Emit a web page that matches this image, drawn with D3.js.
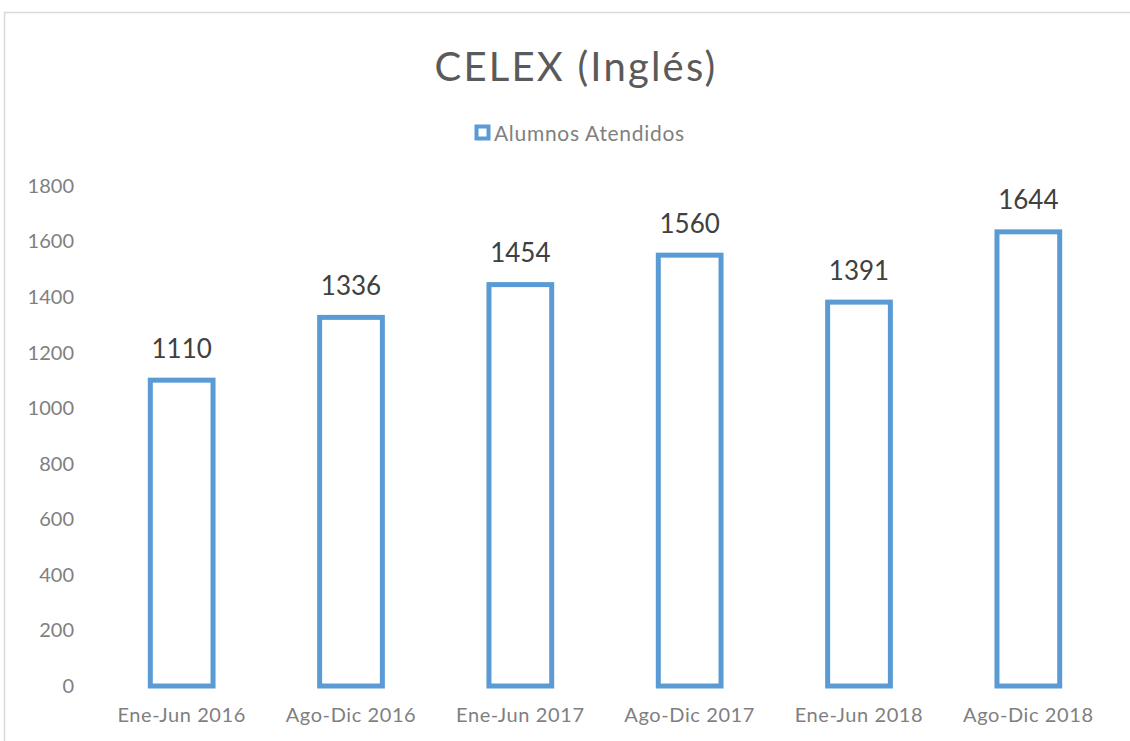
<!DOCTYPE html>
<html>
<head>
<meta charset="utf-8">
<script src="https://cdn.jsdelivr.net/npm/d3@7"></script>
<style>
  body { margin: 0; background: #fff; }
  svg { display: block; font-family: Lato, "Open Sans", sans-serif; }
</style>
</head>
<body>
<svg id="chart" width="1130" height="741"></svg>
<script>
var periodos = ["Ene-Jun 2016", "Ago-Dic 2016", "Ene-Jun 2017", "Ago-Dic 2017", "Ene-Jun 2018", "Ago-Dic 2018"];
var alumnos = [1110, 1336, 1454, 1560, 1391, 1644];
var yTicks = [0, 200, 400, 600, 800, 1000, 1200, 1400, 1600, 1800];
var titulo = "CELEX (Inglés)";
var serie = "Alumnos Atendidos";

var svg = d3.select("#chart");
var blue = "#5b9bd5";

// chart border (only the top/left shows in the crop)
svg.append("rect")
  .attr("x", 4.5).attr("y", 12.5)
  .attr("width", 1140).attr("height", 760)
  .attr("fill", "none").attr("stroke", "#d9d9d9").attr("stroke-width", 1.5);

var m = {left: 97, right: 1113, top: 186, bottom: 686};

var x = d3.scaleBand()
  .domain(periodos)
  .range([m.left, m.right])
  .paddingInner(0.6).paddingOuter(0.3);

var y = d3.scaleLinear()
  .domain([0, 1800])
  .range([m.bottom, m.top]);

// title
svg.append("text")
  .attr("x", 576).attr("y", 81)
  .attr("text-anchor", "middle")
  .attr("font-size", 40)
  .attr("letter-spacing", 2.2)
  .attr("fill", "#5a5a5a")
  .text(titulo);

// legend
var lg = svg.append("g");
lg.append("rect")
  .attr("x", 476.5).attr("y", 126.5)
  .attr("width", 12).attr("height", 12)
  .attr("fill", "#fff").attr("stroke", blue).attr("stroke-width", 4);
lg.append("text")
  .attr("x", 494).attr("y", 140.5)
  .attr("font-size", 21)
  .attr("letter-spacing", 0.7)
  .attr("fill", "#7f7f7f")
  .text(serie);

// y axis
var yAxis = svg.append("g")
  .attr("transform", "translate(" + 74 + ",0)")
  .call(d3.axisLeft(y).tickValues(yTicks).tickSize(0).tickPadding(0).tickFormat(d3.format("d")));
yAxis.select(".domain").remove();
yAxis.selectAll("text")
  .attr("font-size", 20)
  .attr("font-family", "Lato, sans-serif")
  .attr("fill", "#7f7f7f");

// x axis
var xAxis = svg.append("g")
  .attr("transform", "translate(0," + m.bottom + ")")
  .call(d3.axisBottom(x).tickSize(0).tickPadding(22));
xAxis.select(".domain").remove();
xAxis.selectAll("text")
  .attr("font-size", 20)
  .attr("letter-spacing", 0.6)
  .attr("font-family", "Lato, sans-serif")
  .attr("fill", "#7f7f7f");

// bars
var sw = 5;
svg.selectAll("rect.bar")
  .data(alumnos)
  .enter()
  .append("rect")
  .attr("class", "bar")
  .attr("x", function (d, i) { return x(periodos[i]) + sw / 2; })
  .attr("y", function (d) { return y(d) + sw / 2; })
  .attr("width", x.bandwidth() - sw)
  .attr("height", function (d) { return y(0) - y(d) - sw / 2; })
  .attr("fill", "#fff")
  .attr("stroke", blue)
  .attr("stroke-width", sw);

// value labels
svg.selectAll("text.val")
  .data(alumnos)
  .enter()
  .append("text")
  .attr("class", "val")
  .attr("x", function (d, i) { return x(periodos[i]) + x.bandwidth() / 2; })
  .attr("y", function (d) { return y(d) - 20; })
  .attr("text-anchor", "middle")
  .attr("font-size", 26)
  .attr("fill", "#404040")
  .text(function (d) { return d; });
</script>
</body>
</html>
